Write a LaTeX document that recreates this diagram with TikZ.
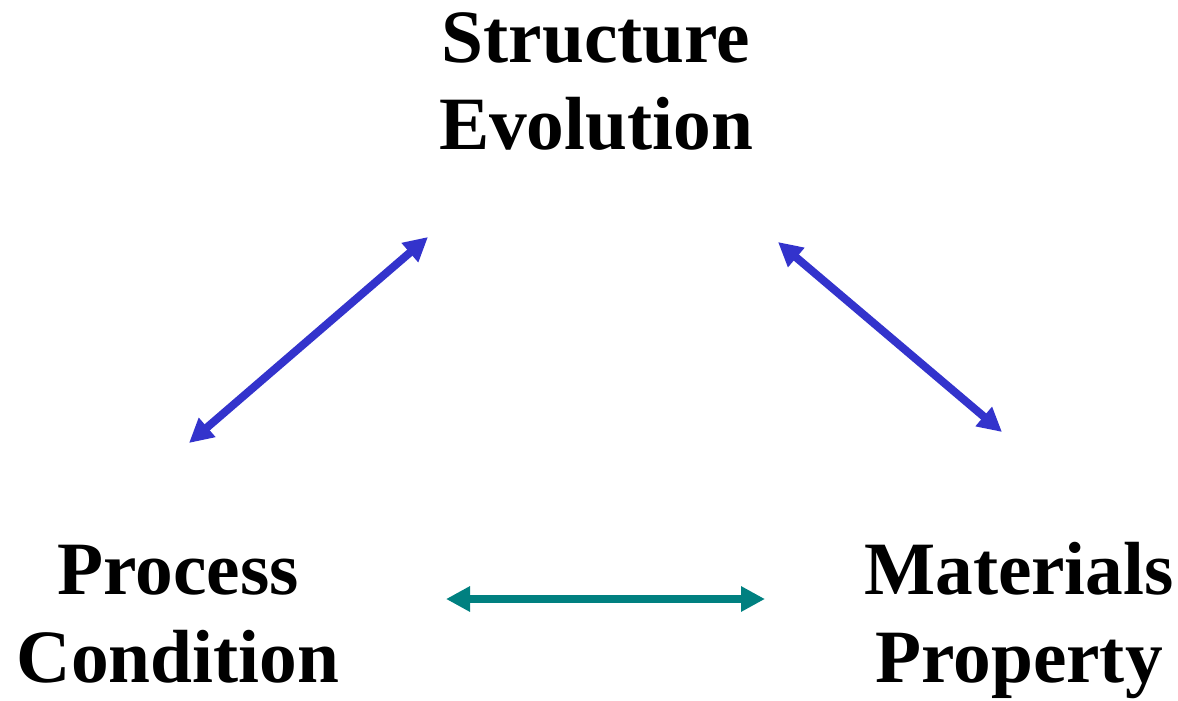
\documentclass[tikz,border=0pt]{standalone}
\usepackage{fontspec}
\setmainfont{Liberation Serif}
\usetikzlibrary{arrows.meta}
\definecolor{linkblue}{HTML}{3333CC}
\definecolor{linkteal}{HTML}{008080}
\tikzset{
  label/.style={align=center, inner sep=0pt, outer sep=0pt,
    font={\fontsize{56.5}{65.6}\selectfont\bfseries}},
  link/.style={line width=6pt, {Triangle[length=18pt,width=18pt]}-{Triangle[length=18pt,width=18pt]}},
}
\begin{document}
\begin{tikzpicture}[x=0.75pt,y=-0.75pt]
\useasboundingbox (0,0) rectangle (1178,700);
\node[label] (se) at (596,81.5) {Structure\\Evolution};
\node[label] (pc) at (178,614) {Process\\Condition};
\node[label] (mp) at (1019,620.5) {Materials\\Property};
\coordinate (a1) at (189,443);
\coordinate (a2) at (428,237);
\coordinate (b1) at (778,242);
\coordinate (b2) at (1002,432);
\coordinate (c1) at (446,599);
\coordinate (c2) at (765,599);
\draw[link, draw=linkblue, fill=linkblue] (a1) -- (a2);
\draw[link, draw=linkblue, fill=linkblue] (b1) -- (b2);
\draw[link, draw=linkteal, fill=linkteal] (c1) -- (c2);
\end{tikzpicture}
\end{document}
